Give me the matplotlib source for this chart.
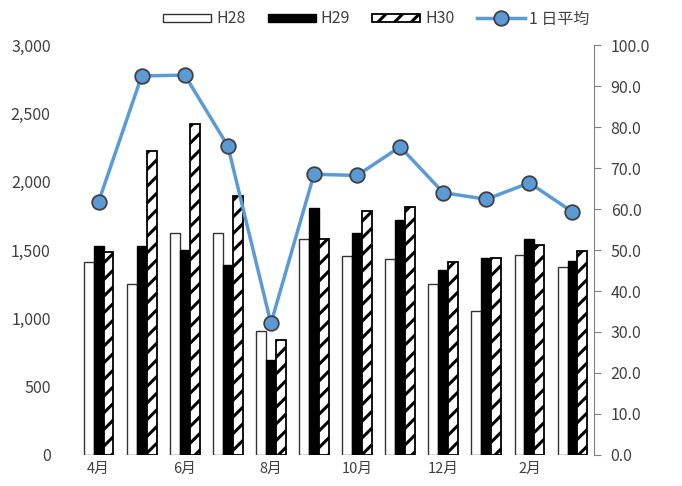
import matplotlib
matplotlib.use("Agg")
import matplotlib.pyplot as plt
import numpy as np
from matplotlib.ticker import FuncFormatter, FormatStrFormatter

plt.rcParams['font.family'] = ['Noto Sans CJK JP', 'DejaVu Sans']
plt.rcParams['hatch.linewidth'] = 2.2

months = ["4月", "5月", "6月", "7月", "8月", "9月", "10月", "11月", "12月", "1月", "2月", "3月"]
h28 = [1414, 1249, 1622, 1622, 910, 1583, 1458, 1437, 1249, 1054, 1463, 1375]
h29 = [1532, 1532, 1498, 1390, 695, 1810, 1624, 1720, 1354, 1441, 1578, 1422]
h30 = [1485, 2227, 2420, 1897, 841, 1583, 1785, 1815, 1410, 1441, 1537, 1495]
daily_avg = [61.8, 92.5, 92.7, 75.4, 32.1, 68.5, 68.2, 75.2, 64.0, 62.4, 66.4, 59.3]

x = np.arange(len(months))
w = 0.23
grey = "#404040"

fig = plt.figure(figsize=(6.82, 4.86), dpi=100)
ax = fig.add_axes([0.113, 0.064, 0.758, 0.843])

b1 = ax.bar(x - w, h28, w, color="white", edgecolor="#333333", linewidth=1.0, label="H28")
b2 = ax.bar(x, h29, w, color="black", edgecolor="black", linewidth=1.0, label="H29")
b3 = ax.bar(x + w, h30, w, color="white", edgecolor="black", linewidth=1.3, hatch="//", label="H30")

ax.set_xlim(-0.5, len(months) - 0.5)
ax.set_ylim(0, 3000)
ax.set_yticks(range(0, 3001, 500))
ax.yaxis.set_major_formatter(FuncFormatter(lambda v, p: f"{int(v):,}"))
ax.set_xticks(x[::2])
ax.set_xticklabels(months[::2], fontsize=10.5, color=grey)
ax.tick_params(axis="y", length=0, labelsize=11.5, labelcolor=grey, pad=19)
ax.tick_params(axis="x", length=0, pad=5)
for s in ax.spines.values():
    s.set_visible(False)

ax2 = ax.twinx()
line, = ax2.plot(x, daily_avg, color="#5B9BD5", linewidth=2.5, marker="o", markersize=10.5,
                 markerfacecolor="#5B9BD5", markeredgecolor="#404040", markeredgewidth=1.3,
                 label="1 日平均")
ax2.set_ylim(0, 100)
ax2.set_yticks(range(0, 101, 10))
ax2.yaxis.set_major_formatter(FormatStrFormatter("%.1f"))
ax2.tick_params(axis="y", length=5, color="#808080", labelsize=11.5, labelcolor=grey, pad=7)
for k in ["top", "left", "bottom"]:
    ax2.spines[k].set_visible(False)
ax2.spines["right"].set_color("#808080")

fig.legend([b1, b2, b3, line], ["H28", "H29", "H30", "1 日平均"], loc="upper center",
           bbox_to_anchor=(0.552, 1.008), ncol=4, frameon=False, fontsize=11.5,
           handlelength=3.0, handleheight=0.45, columnspacing=1.4, handletextpad=0.3,
           labelcolor=grey)

fig.savefig("out.png", dpi=100)
